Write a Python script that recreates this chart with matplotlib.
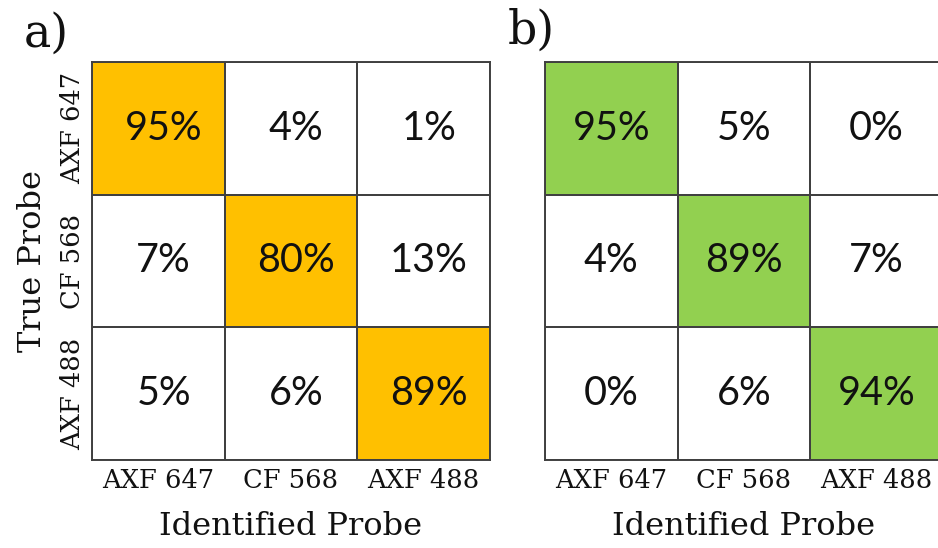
import numpy as np
import matplotlib
matplotlib.use("Agg")
import matplotlib.pyplot as plt
from matplotlib.colors import ListedColormap

# Probe classes (rows: true probe, columns: identified probe)
probes = ["AXF 647", "CF 568", "AXF 488"]

# Confusion matrices in percent
conf_a = [[95, 4, 1],
          [7, 80, 13],
          [5, 6, 89]]
conf_b = [[95, 5, 0],
          [4, 89, 7],
          [0, 6, 94]]

panel_labels = ["a)", "b)"]
highlight_colors = ["#FFC000", "#92D050"]

W, H = 938, 548
fig = plt.figure(figsize=(W / 100, H / 100), dpi=100)
fig.patch.set_facecolor("white")

serif = "DejaVu Serif"
sans = "Lato"
edge = "#404040"
ink = "#111111"


def px_axes(x0, y0, x1, y1):
    return [x0 / W, 1 - y1 / H, (x1 - x0) / W, (y1 - y0) / H]


def draw_matrix(ax, values, color, show_ylabels, dx=0.0):
    vals = np.array(values, dtype=float)
    n = vals.shape[0]
    diag = np.eye(n)
    cmap = ListedColormap(["white", color])
    ax.pcolormesh(np.arange(n + 1), np.arange(n + 1), diag, cmap=cmap,
                  vmin=0, vmax=1, edgecolors=edge, linewidth=1.4)
    ax.set_xlim(0, n)
    ax.set_ylim(n, 0)
    for i in range(n):
        for j in range(n):
            ax.text(j + 0.5 + dx, i + 0.5, f"{int(vals[i, j])}%", ha="center",
                    va="center", fontsize=28.5, family=sans, color=ink)
    ax.set_xticks(np.arange(n) + 0.5)
    ax.set_xticklabels(probes, family=serif, fontsize=18.5, color=ink)
    ax.tick_params(axis="x", length=0, pad=6)
    ax.tick_params(axis="y", length=0, pad=5)
    ax.set_xlabel("Identified Probe", family=serif, fontsize=23,
                  color=ink, labelpad=13)
    if show_ylabels:
        ax.set_yticks(np.arange(n) + 0.5)
        ax.set_yticklabels(probes, family=serif, fontsize=18.5,
                           color=ink, rotation=90, va="center")
        ax.set_ylabel("True Probe", family=serif, fontsize=23,
                      color=ink, labelpad=9)
    else:
        ax.set_yticks([])
    for s in ax.spines.values():
        s.set_color(edge)
        s.set_linewidth(1.4)


ax_a = fig.add_axes(px_axes(92, 62, 490, 460))
ax_b = fig.add_axes(px_axes(545, 62, 943, 460))
draw_matrix(ax_a, conf_a, highlight_colors[0], True, dx=0.04)
draw_matrix(ax_b, conf_b, highlight_colors[1], False)

fig.text(24 / W, 1 - 47 / H, panel_labels[0], family=serif, fontsize=33,
         color=ink, ha="left", va="baseline")
fig.text(508 / W, 1 - 44 / H, panel_labels[1], family=serif, fontsize=33,
         color=ink, ha="left", va="baseline")

fig.savefig("out.png", dpi=100, facecolor="white")
